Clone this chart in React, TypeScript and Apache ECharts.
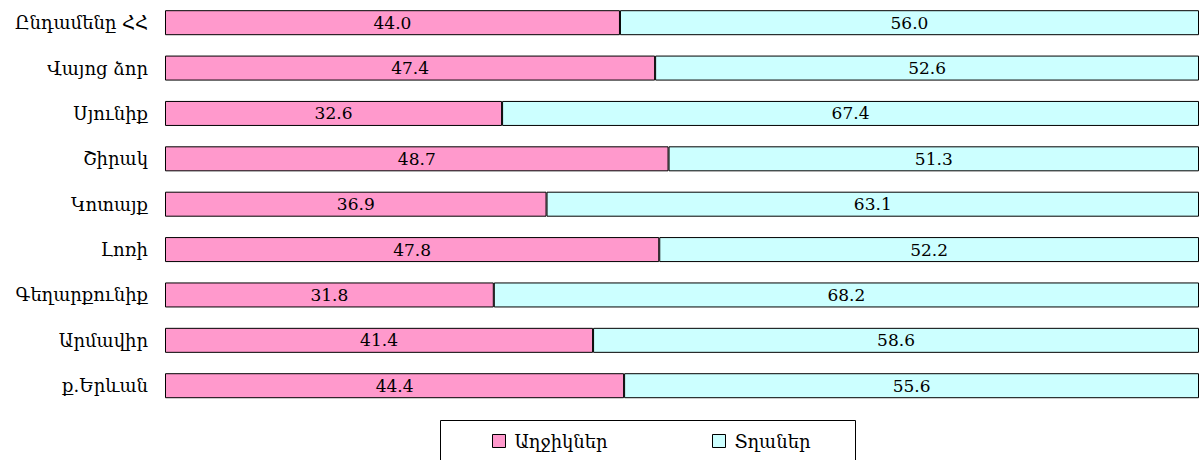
import React, { useEffect, useRef } from "react";
import * as echarts from "echarts";

const categories = [
  "Ընդամենը ՀՀ",
  "Վայոց ձոր",
  "Սյունիք",
  "Շիրակ",
  "Կոտայք",
  "Լոռի",
  "Գեղարքունիք",
  "Արմավիր",
  "ք.Երևան",
];
const girls = [44.0, 47.4, 32.6, 48.7, 36.9, 47.8, 31.8, 41.4, 44.4];
const boys = [56.0, 52.6, 67.4, 51.3, 63.1, 52.2, 68.2, 58.6, 55.6];
const seriesNames = ["Աղջիկներ", "Տղաներ"];

const FONT = "'DejaVu Serif', 'Liberation Serif', serif";

export default function App() {
  const ref = useRef<HTMLDivElement>(null);
  useEffect(() => {
    document.body.style.margin = "0";
    const chart = echarts.init(ref.current!, null, { renderer: "svg" });
    const labelCfg = {
      show: true,
      position: "inside",
      color: "#000",
      fontSize: 17,
      fontFamily: FONT,
      formatter: (p: any) => Number(p.value).toFixed(1),
    };
    const legendBase = {
      top: 432,
      icon: "rect",
      itemWidth: 13,
      itemHeight: 13,
      padding: 0,
      itemGap: 7,
      textStyle: { color: "#000", fontSize: 18, fontFamily: FONT, padding: [0, 0, 0, 4] },
      itemStyle: { borderColor: "#000", borderWidth: 1 },
    };
    chart.setOption({
      animation: false,
      textStyle: { fontFamily: FONT },
      grid: { left: 165, right: 2, top: -3.4, height: 411.8, containLabel: false },
      xAxis: {
        type: "value",
        min: 0,
        max: 100,
        show: false,
      },
      yAxis: {
        type: "category",
        inverse: true,
        data: categories,
        axisLine: { show: false },
        axisTick: { show: false },
        axisLabel: { color: "#000", fontSize: 18, fontFamily: FONT, margin: 17 },
      },
      legend: [
        { ...legendBase, left: 492, data: [seriesNames[0]] },
        { ...legendBase, left: 712, data: [seriesNames[1]] },
      ],
      graphic: [
        {
          type: "rect",
          shape: { x: 440.5, y: 420.5, width: 415, height: 50 },
          style: { fill: "none", stroke: "#000", lineWidth: 1 },
          silent: true,
        },
      ],
      series: [
        {
          name: seriesNames[0],
          type: "bar",
          stack: "total",
          data: girls,
          barWidth: 25,
          itemStyle: { color: "#FF99CC", borderColor: "#000", borderWidth: 1 },
          label: labelCfg,
        },
        {
          name: seriesNames[1],
          type: "bar",
          stack: "total",
          data: boys,
          barWidth: 25,
          itemStyle: { color: "#CCFFFF", borderColor: "#000", borderWidth: 1 },
          label: labelCfg,
        },
      ],
    });
    return () => chart.dispose();
  }, []);
  return <div ref={ref} style={{ width: 1201, height: 460 }} />;
}
